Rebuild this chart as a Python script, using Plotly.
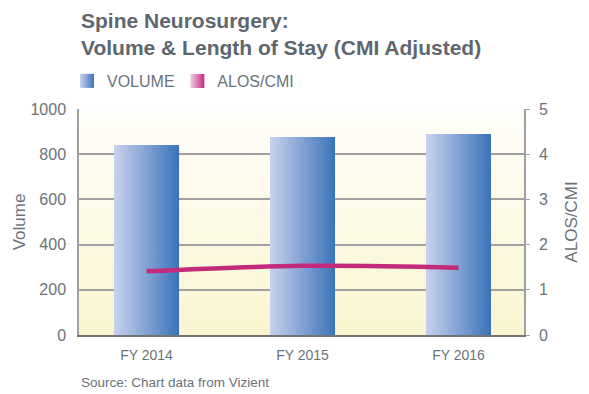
import base64
import plotly.graph_objects as go

# Data
categories = ["FY 2014", "FY 2015", "FY 2016"]
volume = [841, 876, 889]
alos_cmi = [1.41, 1.53, 1.49]

FONT = "Liberation Sans, Arial, sans-serif"
GRAY = "#6b737a"
BAR_LIGHT, BAR_DARK = "#c9d2ee", "#3a73b9"
LINE_COLOR = "#c42a7c"

BAR_W = 0.417
X_RANGE = [-0.433, 2.42]

fig = go.Figure()

# Volume bars as gradient-filled rectangles
for i, (cat, v) in enumerate(zip(categories, volume)):
    x0, x1 = i - BAR_W / 2, i + BAR_W / 2
    fig.add_trace(go.Scatter(
        x=[x0, x1, x1, x0, x0], y=[0, 0, v, v, 0],
        mode="lines", line=dict(width=0), fill="toself",
        fillgradient=dict(type="horizontal",
                          colorscale=[[0, BAR_LIGHT], [1, BAR_DARK]]),
        hoverinfo="skip", showlegend=False,
    ))

# ALOS/CMI line on the secondary axis
fig.add_trace(go.Scatter(
    x=list(range(len(categories))), y=alos_cmi, yaxis="y2",
    mode="lines", line=dict(color=LINE_COLOR, width=4.5, shape="spline"),
    showlegend=False, hoverinfo="skip",
))

# Legend swatches (one legend per entry so each can be placed freely)
fig.add_trace(go.Scatter(
    x=[None], y=[None], mode="markers", name="VOLUME", legend="legend",
    marker=dict(symbol="square", size=14, color=BAR_LIGHT,
                gradient=dict(type="horizontal", color=BAR_DARK)),
))
fig.add_trace(go.Scatter(
    x=[None], y=[None], mode="markers", name="ALOS/CMI", legend="legend2",
    marker=dict(symbol="square", size=14, color="#f0cfe0",
                gradient=dict(type="horizontal", color=LINE_COLOR)),
))

# Plot-area background gradient
svg = (
    '<svg xmlns="http://www.w3.org/2000/svg" width="10" height="100" preserveAspectRatio="none">'
    '<defs><linearGradient id="g" x1="0" y1="0" x2="0" y2="1">'
    '<stop offset="0" stop-color="#fffefa"/><stop offset="1" stop-color="#faf5d0"/>'
    '</linearGradient></defs><rect width="10" height="100" fill="url(#g)"/></svg>'
)
bg_src = "data:image/svg+xml;base64," + base64.b64encode(svg.encode()).decode()

legend_style = dict(orientation="h", xanchor="left", y=1.124, yanchor="middle",
                    font=dict(size=16, color=GRAY), bgcolor="rgba(0,0,0,0)",
                    itemclick=False, itemdoubleclick=False)

fig.update_layout(
    width=589, height=394,
    margin=dict(l=79, r=65, t=109, b=59),
    paper_bgcolor="white", plot_bgcolor="rgba(0,0,0,0)",
    font=dict(family=FONT, color=GRAY),
    images=[dict(source=bg_src, xref="paper", yref="paper", x=0, y=1,
                 sizex=1, sizey=1, sizing="stretch", layer="below")],
    xaxis=dict(range=X_RANGE, tickmode="array",
               tickvals=list(range(len(categories))), ticktext=categories,
               showgrid=False, zeroline=False, showline=True,
               linecolor="#737373", linewidth=2,
               tickfont=dict(size=14, color=GRAY), ticks="",
               ticklabelstandoff=6),
    yaxis=dict(range=[0, 1000], dtick=200, showgrid=True,
               gridcolor="#a0a0a0", gridwidth=1.5, zeroline=False,
               showline=True, linecolor="#a0a0a0", linewidth=1.5,
               tickfont=dict(size=16, color=GRAY), ticklabelstandoff=8,
               title=dict(text="Volume", font=dict(size=17, color=GRAY), standoff=1)),
    yaxis2=dict(range=[0, 5], dtick=1, overlaying="y", side="right",
                showgrid=False, zeroline=False, showline=True,
                linecolor="#a0a0a0", linewidth=1.5,
                ticks="outside", ticklen=4, tickcolor="#a0a0a0",
                tickfont=dict(size=16, color=GRAY), ticklabelstandoff=6,
                title=dict(text="ALOS/CMI", font=dict(size=17, color=GRAY), standoff=18)),
    legend=dict(x=-0.027, **legend_style),
    legend2=dict(x=0.221, **legend_style),
    annotations=[
        dict(text="<b>Spine Neurosurgery:<br>Volume & Length of Stay (CMI Adjusted)</b>",
             xref="paper", yref="paper", x=0, y=1.45, xanchor="left", yanchor="top",
             align="left", showarrow=False,
             font=dict(size=21, color="#5e666e", family=FONT)),
        dict(text="Source: Chart data from Vizient", xref="paper", yref="paper",
             x=0, y=-0.212, xanchor="left", yanchor="middle", showarrow=False,
             font=dict(size=13.5, color=GRAY)),
    ],
)

fig.write_html("out.html")
